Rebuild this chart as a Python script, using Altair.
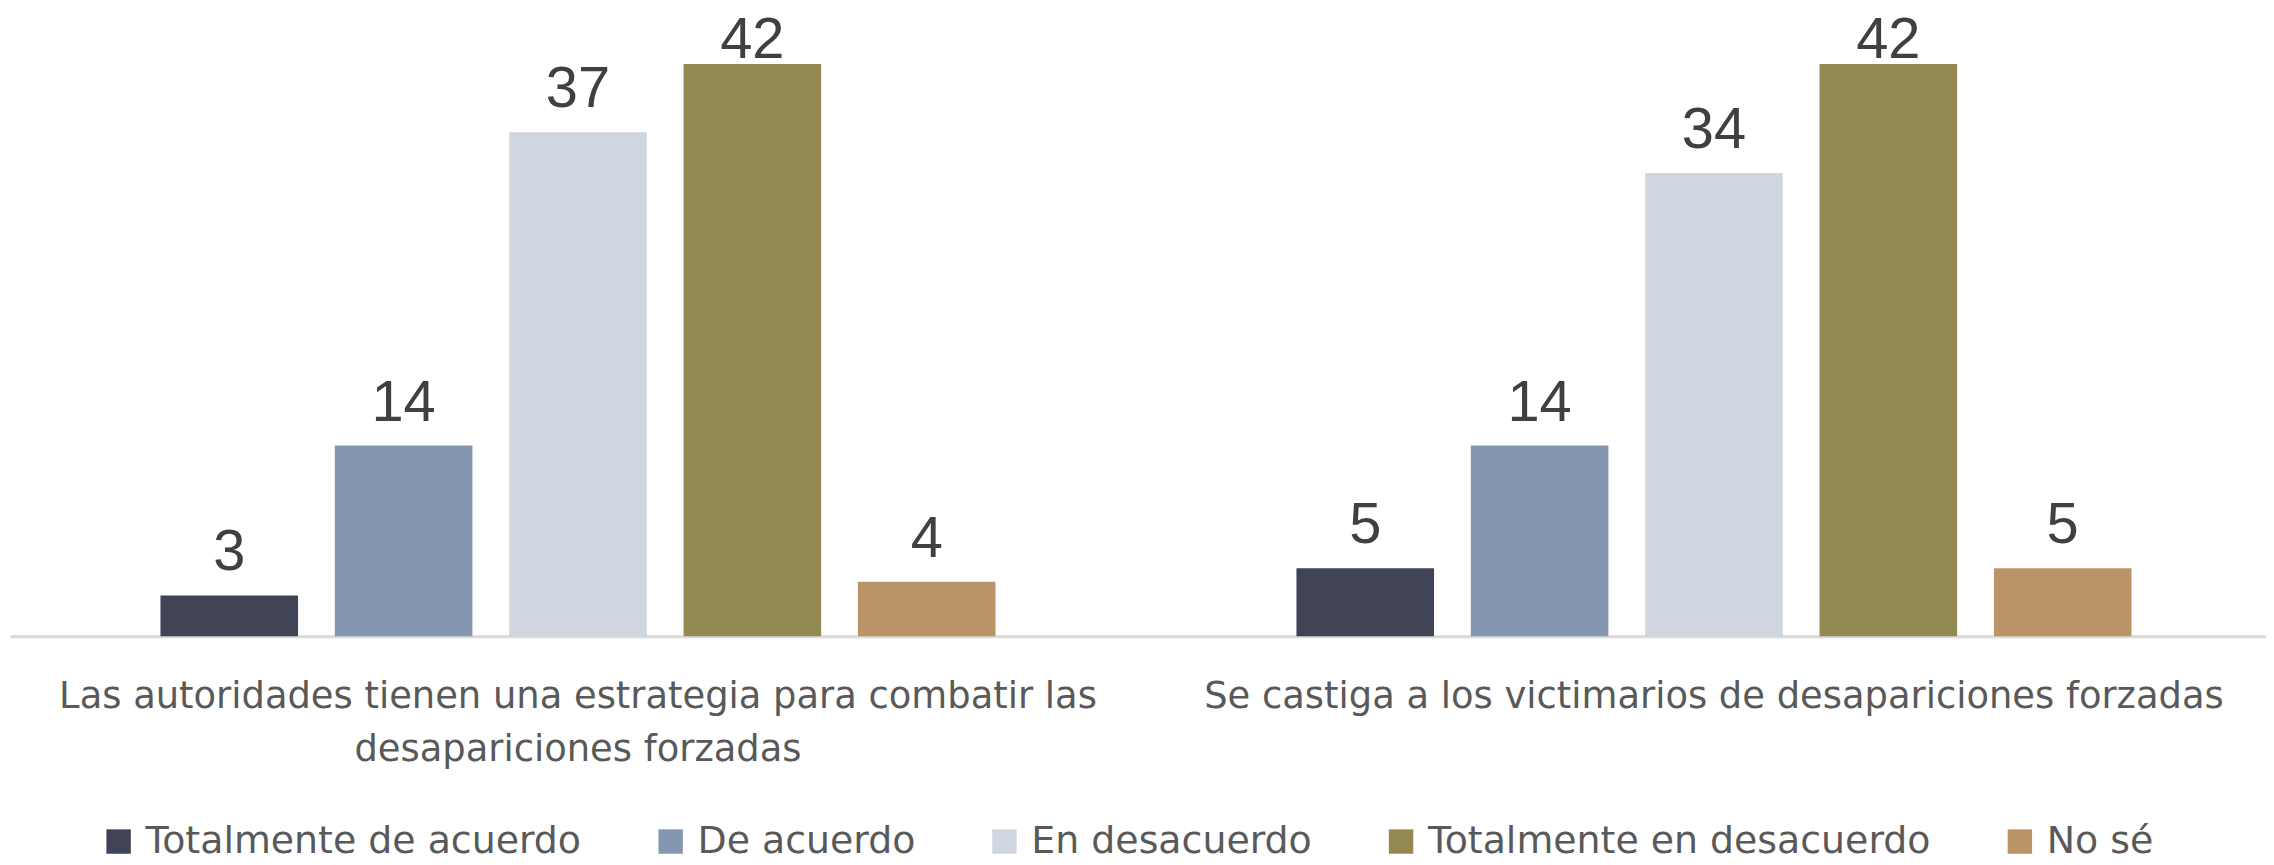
import altair as alt
import pandas as pd

# ---- data ----
categories = [
    "Las autoridades tienen una estrategia para combatir las desapariciones forzadas",
    "Se castiga a los victimarios de desapariciones forzadas",
]
category_lines = [
    ["Las autoridades tienen una estrategia para combatir las", "desapariciones forzadas"],
    ["Se castiga a los victimarios de desapariciones forzadas"],
]
responses = [
    "Totalmente de acuerdo",
    "De acuerdo",
    "En desacuerdo",
    "Totalmente en desacuerdo",
    "No sé",
]
values_autoridades = [3, 14, 37, 42, 4]
values_castiga = [5, 14, 34, 42, 5]
colors = ["#404356", "#8597B0", "#CFD6E0", "#948A51", "#BA9367"]

rows = []
for cat, vals in zip(categories, [values_autoridades, values_castiga]):
    for resp, v in zip(responses, vals):
        rows.append({"category": cat, "response": resp, "value": v})
df = pd.DataFrame(rows)

# multi-line axis label expression built from the label lists
def js_list(lines):
    return "[" + ", ".join("'" + l + "'" for l in lines) + "]"

label_expr = " : ".join(
    f"datum.value == '{c}' ? {js_list(lines)}" for c, lines in zip(categories, category_lines)
) + " : datum.value"

FONT = "DejaVu Sans"

x_enc = alt.X(
    "category:N",
    sort=categories,
    scale=alt.Scale(range=[2, 2282], paddingInner=0, paddingOuter=0),
    axis=alt.Axis(
        title=None,
        ticks=False,
        domainColor="#D9D9D9",
        domainWidth=3,
        labelFont=FONT,
        labelFontSize=37,
        labelColor="#595959",
        labelPadding=42,
        labelLineHeight=54,
        labelAngle=0,
        labelLimit=1500,
        labelOverlap=False,
        labelExpr=label_expr,
    ),
)
xoff_enc = alt.XOffset(
    "response:N",
    sort=responses,
    scale=alt.Scale(paddingInner=0.211, paddingOuter=0.863),
)
y_scale = alt.Scale(domain=[0, 46], nice=False)

bars = alt.Chart(df).mark_bar().encode(
    x=x_enc,
    xOffset=xoff_enc,
    y=alt.Y("value:Q", scale=y_scale, axis=None),
    color=alt.Color(
        "response:N",
        sort=responses,
        scale=alt.Scale(domain=responses, range=colors),
        legend=alt.Legend(
            title=None,
            orient="none",
            direction="horizontal",
            columns=5,
            legendX=92,
            legendY=816,
            symbolType="square",
            symbolSize=600,
            symbolStrokeWidth=0,
            symbolOpacity=1,
            labelFont=FONT,
            labelFontSize=38,
            labelColor="#595959",
            labelOffset=8,
            labelLimit=1000,
            columnPadding=70,
            padding=0,
        ),
    ),
)

labels = (
    alt.Chart(df)
    .transform_calculate(labelpos="min(datum.value, 40.6)")
    .mark_text(
        dy=-25,
        baseline="alphabetic",
        font="Liberation Sans",
        fontSize=58,
        color="#404040",
    )
    .encode(
        x=x_enc,
        xOffset=xoff_enc,
        y=alt.Y("labelpos:Q", scale=y_scale, axis=None),
        text="value:Q",
    )
)

chart = (
    alt.layer(bars, labels)
    .properties(
        width=2266,
        height=629,
        autosize=alt.AutoSizeParams(type="none"),
        padding={"left": 0, "top": 0, "right": 0, "bottom": 220},
        background="white",
    )
    .configure_view(stroke=None)
)

chart.save("out.html", embed_options={"renderer": "svg", "actions": False})
